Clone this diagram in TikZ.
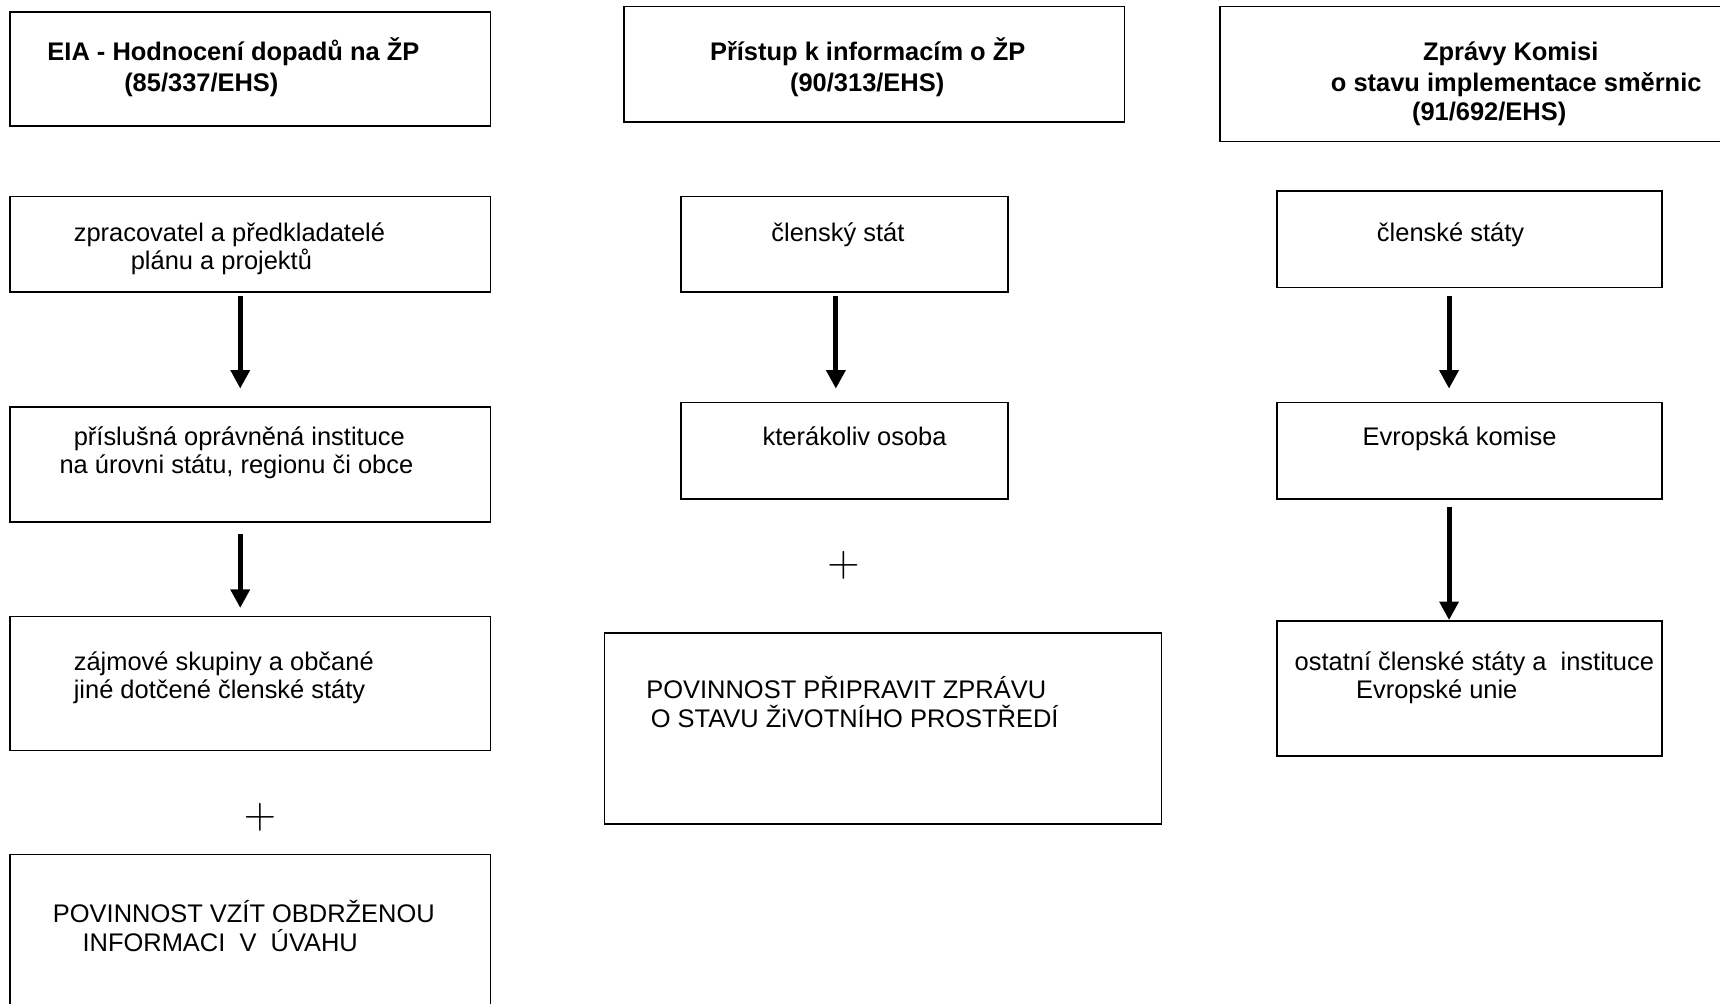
\documentclass[tikz,border=0pt]{standalone}
\usepackage{fontspec}
\usepackage{graphicx}
\setmainfont{Liberation Sans}
\usetikzlibrary{arrows.meta,fit,calc}
\begin{document}
\begin{tikzpicture}[x=0.025cm,y=-0.025cm,
  box/.style={draw=black,line width=1pt,inner sep=0pt},
  txt/.style={anchor=base west,inner sep=0pt,font=\fontsize{16.5}{18.5}\selectfont},
  btxt/.style={txt,font=\fontsize{16.5}{18.5}\selectfont\bfseries},
  plus/.style={anchor=center,inner sep=0pt,font=\fontsize{20.74}{24}\selectfont},
  arr/.style={line width=3.3pt,-{Triangle[width=12pt,length=12pt]}}]
\useasboundingbox (0,0) rectangle (1568,915);
\clip (0,0) rectangle (1568,915);
% column 1
\node[box,fit={(9,11) (447,115)}] (A1) {};
\node[box,fit={(9,179) (447,266)}] (A2) {};
\node[box,fit={(9,371) (447,476)}] (A3) {};
\node[box,fit={(9,562) (447,684)}] (A4) {};
\node[box,fit={(9,779) (447,940)}] (A5) {};
\node[btxt] (a1a) at (43,55) {EIA - Hodnocení dopadů na ŽP};
\node[btxt] (a1b) at (113,83) {(85/337/EHS)};
\node[txt] (a2a) at (67,220) {zpracovatel a předkladatelé};
\node[txt] (a2b) at (119,246) {plánu a projektů};
\node[txt] (a3a) at (67,406) {příslušná oprávněná instituce};
\node[txt] (a3b) at (54,432) {na úrovni státu, regionu či obce};
\node[txt] (a4a) at (67,611) {zájmové skupiny a občané};
\node[txt] (a4b) at (67,637) {jiné dotčené členské státy};
\node[plus] (pa) at (237,745) {\scalebox{1.4}{$+$}};
\node[txt] (a5a) at (48,841) {POVINNOST VZÍT OBDRŽENOU};
\node[txt] (a5b) at (75,867) {INFORMACI\ \ V\ \ ÚVAHU};
\coordinate (ca) at (219,0);
\draw[arr,shorten <=2.1pt,shorten >=11.4pt] (A2.south -| ca) -- (A3.north -| ca);
\draw[arr,shorten <=7.1pt,shorten >=5pt] (A3.south -| ca) -- (A4.north -| ca);
% column 2
\node[box,fit={(569,6) (1025,111)}] (B1) {};
\node[box,fit={(621,179) (919,266)}] (B2) {};
\node[box,fit={(621,367) (919,455)}] (B3) {};
\node[box,fit={(551,577) (1059,751)}] (B4) {};
\node[btxt] (b1a) at (647,55) {Přístup k informacím o ŽP};
\node[btxt] (b1b) at (720,83) {(90/313/EHS)};
\node[txt] (b2a) at (703,220) {členský stát};
\node[txt] (b3a) at (695,406) {kterákoliv osoba};
\node[plus] (pb) at (769,515) {\scalebox{1.4}{$+$}};
\node[txt] (b4a) at (589,637) {POVINNOST PŘIPRAVIT ZPRÁVU};
\node[txt] (b4b) at (593,663) {O STAVU ŽiVOTNÍHO PROSTŘEDÍ};
\coordinate (cb) at (762,0);
\draw[arr,shorten <=2.1pt,shorten >=8.5pt] (B2.south -| cb) -- (B3.north -| cb);
% column 3
\node[box,fit={(1112,6) (1590,129)}] (C1) {};
\node[box,fit={(1164,174) (1515,262)}] (C2) {};
\node[box,fit={(1164,367) (1515,455)}] (C3) {};
\node[box,fit={(1164,566) (1515,689)}] (C4) {};
\node[btxt] (c1a) at (1297,55) {Zprávy Komisi};
\node[btxt] (c1b) at (1213,83) {o stavu implementace směrnic};
\node[btxt] (c1c) at (1287,110) {(91/692/EHS)};
\node[txt] (c2a) at (1255,220) {členské státy};
\node[txt] (c3a) at (1242,406) {Evropská komise};
\node[txt] (c4a) at (1180,611) {ostatní členské státy a\ \ instituce};
\node[txt] (c4b) at (1236,637) {Evropské unie};
\coordinate (cc) at (1321,0);
\draw[arr,shorten <=5pt,shorten >=8.5pt] (C2.south -| cc) -- (C3.north -| cc);
\draw[arr,shorten <=4.3pt] (C3.south -| cc) -- (C4.north -| cc);
\end{tikzpicture}
\end{document}
